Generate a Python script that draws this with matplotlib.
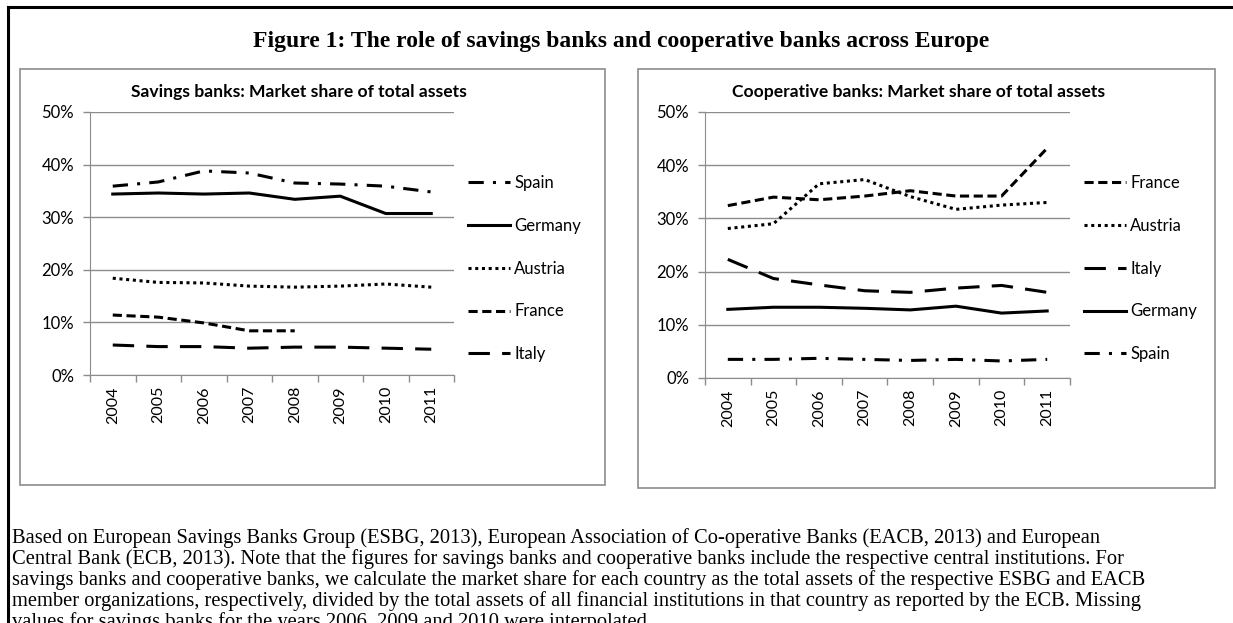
import numpy as np
import matplotlib.pyplot as plt
from matplotlib.patches import Rectangle
from matplotlib.lines import Line2D
from matplotlib.ticker import PercentFormatter

years = ['2004', '2005', '2006', '2007', '2008', '2009', '2010', '2011']

# savings banks, market share of total assets (%)
sav_spain = [35.9, 36.7, 38.8, 38.4, 36.5, 36.3, 35.9, 34.8]
sav_germany = [34.4, 34.6, 34.4, 34.6, 33.4, 34.0, 30.7, 30.7]
sav_austria = [18.4, 17.6, 17.5, 16.9, 16.7, 16.9, 17.3, 16.7]
sav_france = [11.4, 11.0, 9.9, 8.4, 8.4, np.nan, np.nan, np.nan]
sav_italy = [5.7, 5.4, 5.4, 5.1, 5.3, 5.3, 5.1, 4.9]

# cooperative banks, market share of total assets (%)
coop_france = [32.4, 34.0, 33.5, 34.2, 35.2, 34.2, 34.2, 43.2]
coop_austria = [28.1, 29.0, 36.5, 37.3, 34.1, 31.7, 32.5, 33.0]
coop_italy = [22.3, 18.7, 17.5, 16.4, 16.1, 16.9, 17.4, 16.1]
coop_germany = [12.9, 13.3, 13.3, 13.1, 12.8, 13.5, 12.2, 12.6]
coop_spain = [3.5, 3.5, 3.7, 3.5, 3.3, 3.5, 3.2, 3.5]

W, H = 1233, 623
grey = '#8c8c8c'
sans = ['Lato', 'DejaVu Sans']
serif = ['Liberation Serif', 'DejaVu Serif']

styles = {
    'Spain': (0, (5, 3, 1, 3)),
    'Germany': '-',
    'Austria': (0, (1, 1.2)),
    'France': (0, (3, 1.5)),
    'Italy': (0, (7, 4)),
}

fig = plt.figure(figsize=(W / 100, H / 100), dpi=100)

def px(x, y, w, h):
    # pixel box (top-left origin) -> figure fraction
    return [x / W, 1 - (y + h) / H, w / W, h / H]

# outer frame (top and left edge)
fig.add_artist(Line2D([8 / W, 1], [1 - 7 / H, 1 - 7 / H], color='black', lw=2.2, transform=fig.transFigure))
fig.add_artist(Line2D([8 / W, 8 / W], [0, 1 - 7 / H], color='black', lw=2.2, transform=fig.transFigure))

fig.text(621 / W, 1 - 42 / H, 'Figure 1: The role of savings banks and cooperative banks across Europe',
         ha='center', va='center', fontsize=17, fontweight='bold', family=serif)

def panel(box, axbox, title, title_x, series, leg_xy):
    bx, by, bw, bh = box
    fig.add_artist(Rectangle((bx / W, 1 - (by + bh) / H), bw / W, bh / H, fill=False,
                             edgecolor=grey, lw=1.2, transform=fig.transFigure))
    ax = fig.add_axes(px(*axbox))
    x = np.arange(len(years))
    handles = []
    for name, vals in series:
        ln, = ax.plot(x, vals, color='black', lw=2.2, linestyle=styles[name], label=name)
        handles.append(ln)
    ax.set_xlim(-0.5, len(years) - 0.5)
    ax.set_ylim(0, 50)
    ax.set_yticks(np.arange(0, 51, 10))
    ax.yaxis.set_major_formatter(PercentFormatter(decimals=0))
    ax.set_xticks(x)
    ax.set_xticklabels(years, rotation=90, family=sans, fontsize=11.5)
    ax.set_xticks(np.arange(-0.5, len(years)), minor=True)
    ax.tick_params(axis='x', which='major', length=0, pad=8)
    ax.tick_params(axis='x', which='minor', length=5, color=grey, width=1)
    ax.tick_params(axis='y', length=5, color=grey, width=1, labelsize=12, pad=6.5)
    for t in ax.get_yticklabels():
        t.set_family(sans)
    ax.grid(axis='y', color=grey, lw=1)
    ax.set_axisbelow(True)
    for s in ['top', 'right']:
        ax.spines[s].set_visible(False)
    for s in ['left', 'bottom']:
        ax.spines[s].set_color(grey)
    # chart title is centred on the chart box, not on the plot area
    fig.text(title_x / W, 1 - 92 / H, title, ha='center', va='center',
             fontsize=12.6, fontweight='bold', family=sans)
    ax.legend(handles=handles, loc='upper left', bbox_to_anchor=(leg_xy[0] / W, 1 - leg_xy[1] / H),
              bbox_transform=fig.transFigure, frameon=False, handlelength=2.5, handletextpad=0.25,
              labelspacing=1.6, borderpad=0, prop={'family': sans, 'size': 12})
    return ax

panel((20, 69, 585, 416), (90, 112, 364, 263),
      'Savings banks: Market share of total assets', 299,
      [('Spain', sav_spain), ('Germany', sav_germany), ('Austria', sav_austria),
       ('France', sav_france), ('Italy', sav_italy)],
      (460, 167))

panel((638, 69, 577, 419), (705, 112, 365, 266),
      'Cooperative banks: Market share of total assets', 919,
      [('France', coop_france), ('Austria', coop_austria), ('Italy', coop_italy),
       ('Germany', coop_germany), ('Spain', coop_spain)],
      (1076, 167))

note = ['Based on European Savings Banks Group (ESBG, 2013), European Association of Co-operative Banks (EACB, 2013) and European',
        'Central Bank (ECB, 2013). Note that the figures for savings banks and cooperative banks include the respective central institutions. For',
        'savings banks and cooperative banks, we calculate the market share for each country as the total assets of the respective ESBG and EACB',
        'member organizations, respectively, divided by the total assets of all financial institutions in that country as reported by the ECB. Missing',
        'values for savings banks for the years 2006, 2009 and 2010 were interpolated.']
for i, line in enumerate(note):
    fig.text(12 / W, 1 - (538 + 21 * i) / H, line, ha='left', va='center', fontsize=14.8, family=serif)

fig.savefig('out.png', dpi=100)
